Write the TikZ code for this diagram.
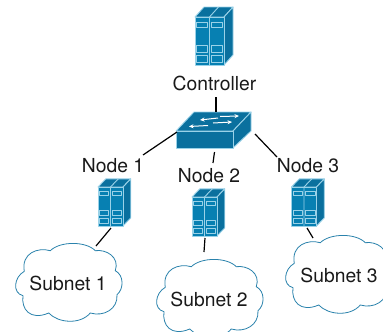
\documentclass[tikz,border=0pt]{standalone}
\usepackage{fontspec}
\setmainfont{TeX Gyre Heros}
\usetikzlibrary{arrows.meta}
\definecolor{srvfront}{HTML}{0780B2}
\definecolor{srvtop}{HTML}{0A709E}
\definecolor{srvedge}{HTML}{9AD2E8}
\definecolor{cloudline}{HTML}{2A82AC}
\tikzset{
  lbl/.style={font=\fontsize{19.3}{21}\selectfont,inner sep=0pt,text=black!90},
  link/.style={draw=black,line width=1.2pt},
  anchorbox/.style={inner sep=0pt,outer sep=0pt,minimum width=#1},
  faceline/.style={draw=srvedge,line width=.9pt,line join=round},
  server/.pic={
    \path[faceline,fill=srvtop] (0,0)--(9,-10)--(38,-10)--(29,0)--cycle;
    \path[faceline,fill=srvtop] (29,0)--(38,-10)--(38,38)--(29,48)--cycle;
    \path[faceline,fill=srvfront] (0,0) rectangle (29,48);
    \path[faceline] (14.5,0)--(14.5,48) (14.5,0)--(23.5,-10);
    \foreach \a/\b in {5/10.7,28.3/35,38.3/45}{
      \path[faceline] (1.7,\a) rectangle (12.3,\b);
      \path[faceline] (16.5,\a) rectangle (27.2,\b);
    }
  },
  cloudpic/.pic={
    \draw[cloudline,line width=.8pt,fill=white]
      (-43.7,-11.7) .. controls (-47,-30) and (-30,-36) .. (-17.7,-32.3)
      .. controls (-8,-42) and (18,-42) .. (27.3,-32.3)
      .. controls (38,-34) and (52,-26) .. (47.3,-12.3)
      .. controls (56,-8) and (56,6) .. (49,11.7)
      .. controls (50,26) and (36,34) .. (22.3,30)
      .. controls (12,42) and (-10,40) .. (-19.3,30)
      .. controls (-38,38) and (-47,26) .. (-45,12.7)
      .. controls (-56,10) and (-54,-6) .. cycle;
  }
}
\begin{document}
\begin{tikzpicture}[x=1pt,y=-1pt]
\useasboundingbox (0,0) rectangle (383,332);
\clip (0,0) rectangle (383,332);
% clouds
\pic at (68,283) {cloudpic};
\pic at (209,299) {cloudpic};
\pic at (338,275) {cloudpic};
% servers
\node[anchorbox=29pt,minimum height=48pt] (ctrl) at (209.5,41) {};
\node[anchorbox=25pt,minimum height=39pt] (n1) at (110.5,206.5) {};
\node[anchorbox=25pt,minimum height=39pt] (n2) at (204.5,216.5) {};
\node[anchorbox=25pt,minimum height=39pt] (n3) at (304,206.5) {};
\pic at (ctrl.north west) {server};
\pic[xscale=25/29,yscale=39/48] at (n1.north west) {server};
\pic[xscale=25/29,yscale=39/48] at (n2.north west) {server};
\pic[xscale=25/29,yscale=39/48] at (n3.north west) {server};
% switch
\node[anchorbox=57pt,minimum height=17pt] (sw) at (204.5,139.5) {};
\path[faceline,fill=srvtop] (176,131)--(194,112)--(251,112)--(233,131)--cycle;
\path[faceline,fill=srvtop] (233,131)--(251,112)--(251,131)--(233,148)--cycle;
\path[faceline,fill=srvtop] (176,131) rectangle (233,148);
\foreach \a/\b/\c/\d in {218/118/200/120,220/116.5/239/116,208/125.5/189/126.5,213/123/232/122}
  \draw[-{Stealth[length=4.5pt,width=4pt]},white,line width=1pt] (\a,\b)--(\c,\d);
% labels
\node[lbl] (lc) at (214.5,83) {Controller};
\node[lbl] (l1) at (113,166) {Node 1};
\node[lbl] (l2) at (209,176) {Node 2};
\node[lbl] (l3) at (308,166) {Node 3};
\node[lbl] (s1) at (68,283) {Subnet 1};
\node[lbl] (s2) at (209,299) {Subnet 2};
\node[lbl] (s3) at (339,275) {Subnet 3};
% connector ends
\coordinate (c0) at (216,97);
\coordinate (c1) at (216,112);
\coordinate (a1) at (177,132);
\coordinate (a2) at (143,155);
\coordinate (b1) at (214.5,152);
\coordinate (b2) at (213,163);
\coordinate (d1) at (255,134);
\coordinate (d2) at (277,157);
\coordinate (e1) at (111,228);
\coordinate (e2) at (96,246);
\coordinate (f1) at (205,238);
\coordinate (f2) at (204,252);
\coordinate (g1) at (307,228);
\coordinate (g2) at (313,238);
\draw[link] (c0)--(c1);
\draw[link] (a1)--(a2);
\draw[link] (b1)--(b2);
\draw[link] (d1)--(d2);
\draw[link] (e1)--(e2);
\draw[link] (f1)--(f2);
\draw[link] (g1)--(g2);
\end{tikzpicture}
\end{document}
